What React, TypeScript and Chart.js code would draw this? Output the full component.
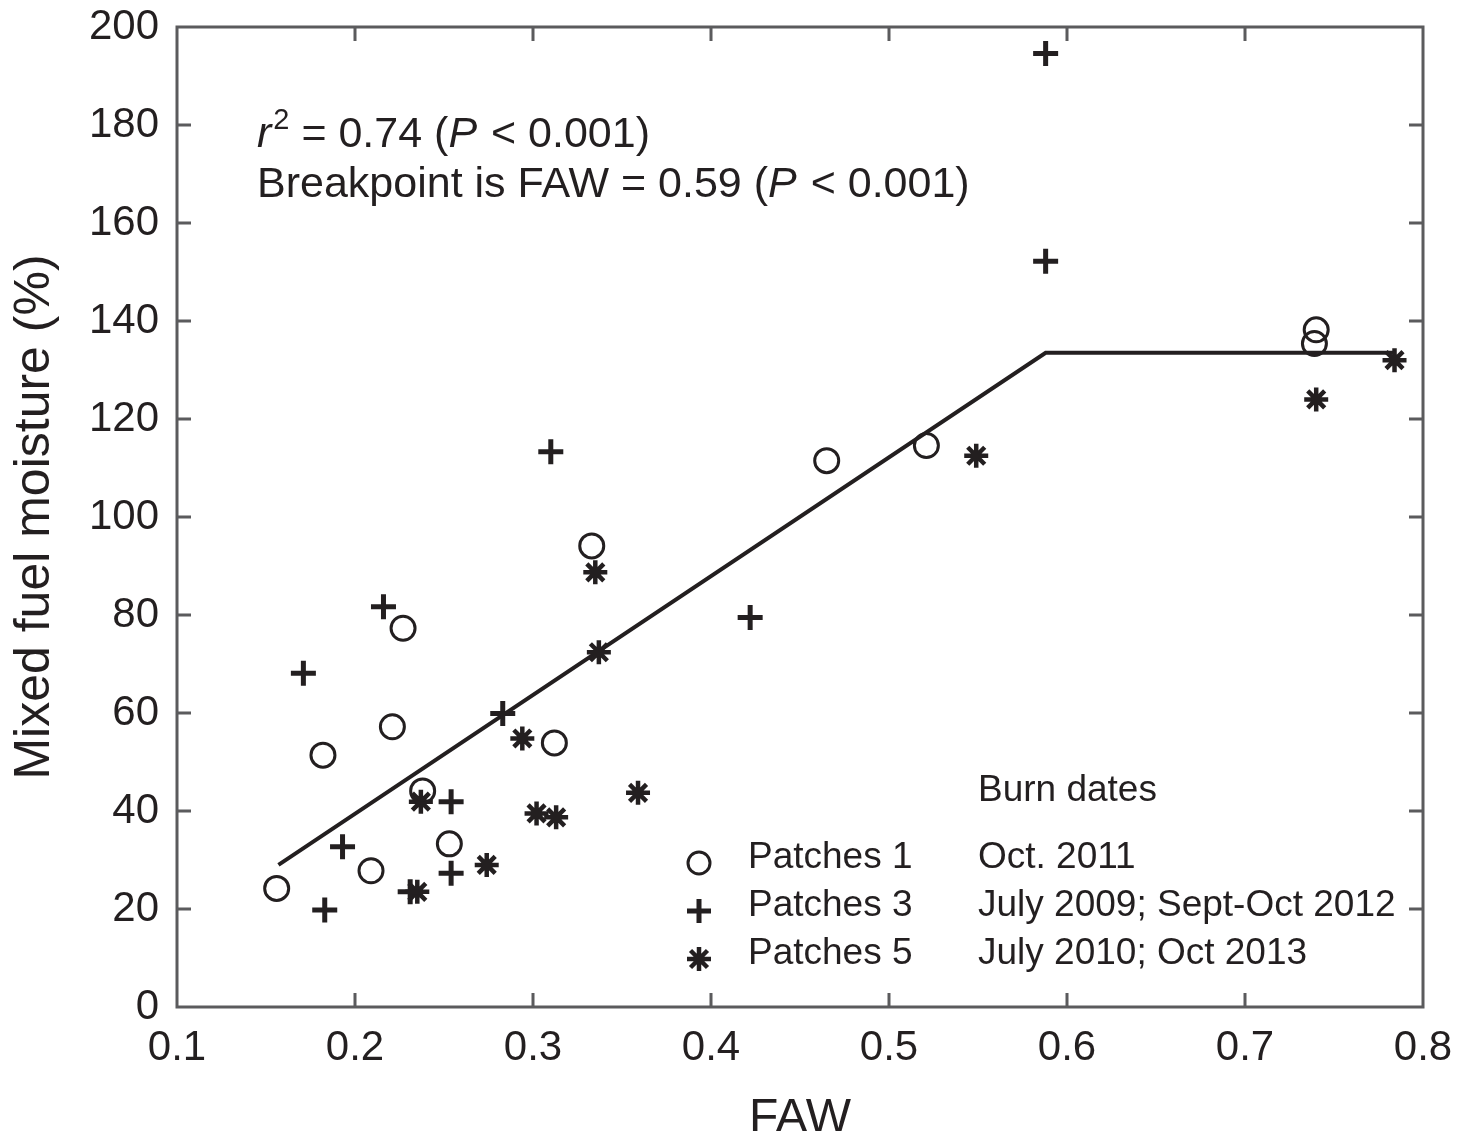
import React, { useEffect, useRef } from "react";
import { Chart, registerables } from "chart.js";

Chart.register(...registerables);

// ---------- data ----------
const patches1FAW = [0.156, 0.182, 0.209, 0.221, 0.227, 0.238, 0.253, 0.312, 0.333, 0.465, 0.521, 0.739, 0.740];
const patches1Moisture = [24.2, 51.4, 27.8, 57.2, 77.3, 44.1, 33.3, 53.9, 94.1, 111.5, 114.6, 135.4, 138.2];

const patches3FAW = [0.171, 0.183, 0.193, 0.216, 0.231, 0.254, 0.254, 0.283, 0.310, 0.422, 0.588, 0.588];
const patches3Moisture = [68.1, 19.8, 32.7, 81.7, 23.5, 41.9, 27.3, 59.9, 113.3, 79.5, 152.2, 194.6];

const patches5FAW = [0.235, 0.237, 0.274, 0.294, 0.302, 0.313, 0.335, 0.337, 0.359, 0.549, 0.740, 0.784];
const patches5Moisture = [23.5, 41.9, 29.0, 54.8, 39.5, 38.7, 88.7, 72.4, 43.7, 112.5, 124.0, 132.0];

const fitFAW = [0.157, 0.588, 0.784];
const fitMoisture = [29.0, 133.5, 133.5];

const seriesNames = ["Patches 1", "Patches 3", "Patches 5"];
const burnDates = ["Oct. 2011", "July 2009; Sept-Oct 2012", "July 2010; Oct 2013"];
const burnDatesTitle = "Burn dates";

const xAxisTitle = "FAW";
const yAxisTitle = "Mixed fuel moisture (%)";
const xMin = 0.1, xMax = 0.8, xStep = 0.1;
const yMin = 0, yMax = 200, yStep = 20;

const annotationLine1 = [
  { t: "r", it: true },
  { t: "2", sup: true },
  { t: " = 0.74 (" },
  { t: "P", it: true },
  { t: " < 0.001)" },
];
const annotationLine2 = [
  { t: "Breakpoint is FAW = 0.59 (" },
  { t: "P", it: true },
  { t: " < 0.001)" },
];

// ---------- styles ----------
const FONT = "'Liberation Sans', Arial, Helvetica, sans-serif";
const INK = "#231f20";
const AXIS = "#5b5b5d";
const TICK_LEN = 14;

const toPts = (xs: number[], ys: number[]) => xs.map((x, i) => ({ x, y: ys[i] }));

function drawRich(ctx: CanvasRenderingContext2D, x: number, baseline: number, segs: any[], size: number) {
  let cx = x;
  for (const s of segs) {
    const fs = s.sup ? Math.round(size * 0.68) : size;
    ctx.font = `${s.it ? "italic " : ""}${fs}px ${FONT}`;
    const yy = s.sup ? baseline - size * 0.42 : baseline;
    ctx.fillText(s.t, cx, yy);
    cx += ctx.measureText(s.t).width + (s.it ? 2 : 0);
  }
}

function drawMarker(ctx: CanvasRenderingContext2D, kind: number, x: number, y: number, r: number) {
  ctx.save();
  ctx.strokeStyle = INK;
  ctx.lineCap = "butt";
  ctx.beginPath();
  if (kind === 0) {
    ctx.lineWidth = 3;
    ctx.arc(x, y, r - 1, 0, Math.PI * 2);
  } else if (kind === 1) {
    ctx.lineWidth = 5;
    ctx.moveTo(x - r, y); ctx.lineTo(x + r, y);
    ctx.moveTo(x, y - r); ctx.lineTo(x, y + r);
  } else {
    ctx.lineWidth = 4.5;
    ctx.moveTo(x - r, y); ctx.lineTo(x + r, y);
    ctx.moveTo(x, y - r); ctx.lineTo(x, y + r);
    const d = r * Math.SQRT1_2;
    ctx.moveTo(x - d, y - d); ctx.lineTo(x + d, y + d);
    ctx.moveTo(x - d, y + d); ctx.lineTo(x + d, y - d);
  }
  ctx.stroke();
  ctx.restore();
}

const framePlugin = {
  id: "frameAndText",
  afterDraw(chart: any) {
    const { ctx, chartArea: a, scales } = chart;
    const sx = scales.x, sy = scales.y;
    ctx.save();
    // frame
    ctx.strokeStyle = AXIS;
    ctx.lineWidth = 3;
    ctx.strokeRect(a.left, a.top, a.right - a.left, a.bottom - a.top);
    ctx.beginPath();
    sx.ticks.forEach((t: any) => {
      const px = sx.getPixelForValue(t.value);
      if (px <= a.left + 2 || px >= a.right - 2) return;
      ctx.moveTo(px, a.bottom); ctx.lineTo(px, a.bottom - TICK_LEN);
      ctx.moveTo(px, a.top); ctx.lineTo(px, a.top + TICK_LEN);
    });
    sy.ticks.forEach((t: any) => {
      const py = sy.getPixelForValue(t.value);
      if (py <= a.top + 2 || py >= a.bottom - 2) return;
      ctx.moveTo(a.left, py); ctx.lineTo(a.left + TICK_LEN, py);
      ctx.moveTo(a.right, py); ctx.lineTo(a.right - TICK_LEN, py);
    });
    ctx.stroke();

    // annotation
    ctx.fillStyle = INK;
    ctx.textAlign = "left";
    ctx.textBaseline = "alphabetic";
    drawRich(ctx, a.left + 80, a.top + 120, annotationLine1, 43);
    drawRich(ctx, a.left + 80, a.top + 170, annotationLine2, 43);

    // legend
    const mx = a.left + 522;
    const tx = a.left + 571;
    const dx = a.left + 801;
    const rows = [a.top + 831, a.top + 879, a.top + 927];
    ctx.font = `37px ${FONT}`;
    ctx.textBaseline = "middle";
    ctx.fillText(burnDatesTitle, dx, a.top + 764);
    rows.forEach((ry, i) => {
      drawMarker(ctx, i, mx, ry + 5, 12);
      ctx.fillStyle = INK;
      ctx.font = `37px ${FONT}`;
      ctx.textBaseline = "middle";
      ctx.fillText(seriesNames[i], tx, ry);
      ctx.fillText(burnDates[i], dx, ry);
    });
    ctx.restore();
  },
};

export default function App() {
  const ref = useRef<HTMLCanvasElement | null>(null);

  useEffect(() => {
    if (!ref.current) return;
    Chart.defaults.font.family = FONT;
    Chart.defaults.color = INK;
    const chart = new Chart(ref.current, {
      type: "scatter",
      data: {
        datasets: [
          {
            label: "Patches 1",
            data: toPts(patches1FAW, patches1Moisture),
            pointStyle: "circle",
            pointRadius: 12,
            borderWidth: 3,
            borderColor: INK,
            backgroundColor: "rgba(0,0,0,0)",
          },
          {
            label: "Patches 3",
            data: toPts(patches3FAW, patches3Moisture),
            pointStyle: "cross",
            pointRadius: 12.5,
            borderWidth: 5,
            borderColor: INK,
            backgroundColor: INK,
          },
          {
            label: "Patches 5",
            data: toPts(patches5FAW, patches5Moisture),
            pointStyle: "star",
            pointRadius: 12,
            borderWidth: 4.5,
            borderColor: INK,
            backgroundColor: INK,
          },
          {
            type: "line",
            label: "fit",
            data: toPts(fitFAW, fitMoisture),
            borderColor: INK,
            borderWidth: 4,
            pointRadius: 0,
            fill: false,
            tension: 0,
          } as any,
        ],
      },
      options: {
        animation: false,
        responsive: false,
        devicePixelRatio: 1,
        layout: { padding: { top: 19, right: 30, left: 0, bottom: 0 } },
        plugins: { legend: { display: false }, tooltip: { enabled: false } },
        scales: {
          x: {
            type: "linear",
            min: xMin,
            max: xMax,
            grid: { display: false, drawTicks: false },
            border: { display: false },
            ticks: {
              stepSize: xStep,
              padding: 16,
              color: INK,
              font: { size: 42, family: FONT },
              callback: (v: any) => Number(v).toFixed(1),
              autoSkip: false,
              maxRotation: 0,
            },
            title: {
              display: true,
              text: xAxisTitle,
              color: INK,
              font: { size: 48, family: FONT, lineHeight: 1 },
              padding: { top: 0, bottom: -12 },
            },
            afterFit: (s: any) => {
              s.height = 124;
              s.paddingLeft = 0;
              s.paddingRight = 0;
              s.paddingTop = 0;
              s.paddingBottom = 0;
            },
          },
          y: {
            type: "linear",
            min: yMin,
            max: yMax,
            grid: { display: false, drawTicks: false },
            border: { display: false },
            ticks: {
              stepSize: yStep,
              padding: 18,
              color: INK,
              font: { size: 42, family: FONT },
              autoSkip: false,
            },
            title: {
              display: true,
              text: yAxisTitle,
              color: INK,
              font: { size: 50, family: FONT, lineHeight: 1 },
              padding: { top: 2, bottom: 0 },
            },
            afterFit: (s: any) => {
              s.width = 169;
              s.paddingLeft = 0;
              s.paddingRight = 0;
              s.paddingTop = 0;
              s.paddingBottom = 0;
            },
          },
        },
      },
      plugins: [framePlugin],
    });
    return () => chart.destroy();
  }, []);

  return (
    <div style={{ width: 1445, height: 1123 }}>
      <canvas ref={ref} width={1445} height={1123} style={{ display: "block" }} />
    </div>
  );
}
